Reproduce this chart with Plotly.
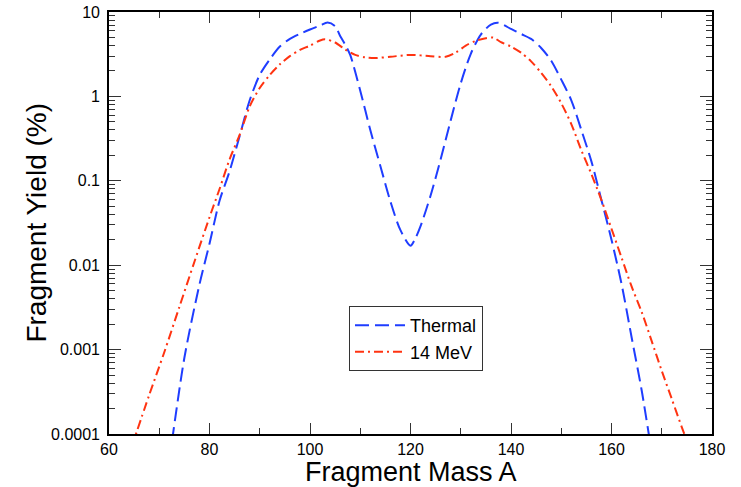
import plotly.graph_objects as go

# Thermal neutron fission fragment yields (%)
thermal_mass = [72, 75, 78, 80, 82, 84, 86, 88, 90, 92, 94, 96, 98, 100, 102, 103.5, 105, 106, 107, 108,
                110, 112, 114, 116, 118, 120, 121, 122, 124, 126, 128, 130, 132, 134, 136, 137.5,
                140, 142, 144, 146, 148, 150, 152, 154, 156, 158, 160, 162, 164, 166, 168]
thermal_yield = [0.000048, 0.0008, 0.0059, 0.018, 0.058, 0.13, 0.34, 0.9, 1.8, 2.75, 3.9, 4.8, 5.5, 6.2, 6.9, 7.5, 6.8, 5.2, 4.1, 3.1,
                 1.17, 0.40, 0.15, 0.057, 0.026, 0.017, 0.021, 0.029, 0.067, 0.18, 0.52, 1.43, 3.2, 5.4, 7.1, 7.45,
                 6.3, 5.5, 4.8, 3.75, 2.65, 1.58, 0.9, 0.4, 0.17, 0.059, 0.02, 0.006, 0.0014, 0.00033, 0.00006]

# 14 MeV neutron fission fragment yields (%)
mev14_mass = [64.5, 68, 71, 74, 77, 80, 82, 84, 86, 88, 90, 92, 94, 96, 98, 100, 102, 103, 105, 107, 109,
              111, 113, 116, 120, 124, 127, 129, 131, 133, 135, 136.5, 138, 140, 142, 144, 146, 148,
              150, 152, 154, 156, 158, 160, 162, 164, 166, 168, 170, 172, 174, 175.5]
mev14_yield = [0.00007, 0.00029, 0.00093, 0.0032, 0.011, 0.037, 0.08, 0.18, 0.35, 0.76, 1.26, 1.8, 2.4, 3.0, 3.55, 4.0, 4.6, 4.75, 4.35, 3.6, 3.1,
               2.9, 2.85, 2.95, 3.1, 3.0, 2.95, 3.3, 4.0, 4.55, 4.9, 4.97, 4.4, 3.9, 3.3, 2.6, 1.9, 1.32,
               0.83, 0.47, 0.23, 0.12, 0.059, 0.027, 0.0123, 0.0056, 0.0028, 0.00126, 0.00056, 0.00026, 0.00012, 0.00007]

x_ticks = [60, 80, 100, 120, 140, 160, 180]
x_minor_ticks = [70, 90, 110, 130, 150, 170]
y_ticks = [0.0001, 0.001, 0.01, 0.1, 1, 10]
y_ticktext = ["0.0001", "0.001", "0.01", "0.1", "1", "10"]
y_minor_ticks = [m * d for d in [0.0001, 0.001, 0.01, 0.1, 1] for m in range(2, 10)]

FONT = "Liberation Sans, Arial, Helvetica, sans-serif"

fig = go.Figure()
fig.add_trace(go.Scatter(
    x=thermal_mass, y=thermal_yield, mode="lines", name="Thermal",
    line=dict(color="#1f3dff", width=2, dash="14px,6px", shape="spline", smoothing=0.8),
))
fig.add_trace(go.Scatter(
    x=mev14_mass, y=mev14_yield, mode="lines", name="14 MeV",
    line=dict(color="#ff3311", width=2, dash="9px,4px,2px,4px", shape="spline", smoothing=0.8),
))

fig.update_layout(
    width=741, height=487,
    margin=dict(l=108.5, r=28.5, t=12, b=53, autoexpand=False),
    paper_bgcolor="white", plot_bgcolor="white",
    font=dict(family=FONT, color="black", size=16),
    showlegend=True,
    legend=dict(
        x=0.398, y=0.303, xanchor="left", yanchor="top",
        bordercolor="#333333", borderwidth=1, bgcolor="white",
        font=dict(size=18, family=FONT), tracegroupgap=0, itemwidth=50,
    ),
    annotations=[
        dict(text="Fragment Mass A", xref="paper", yref="paper", x=0.5, y=-0.0895,
             xanchor="center", yanchor="middle", showarrow=False,
             font=dict(size=27, family=FONT, color="black")),
        dict(text="Fragment Yield (%)", xref="paper", yref="paper", x=-0.1217, y=0.5,
             xanchor="center", yanchor="middle", showarrow=False, textangle=-90,
             font=dict(size=28, family=FONT, color="black")),
    ],
)

fig.update_xaxes(
    range=[60, 180], tickvals=x_ticks, ticks="inside", ticklen=11, tickwidth=1.2, tickcolor="#333",
    showline=True, linecolor="black", linewidth=1.6, mirror="ticks", showgrid=False, zeroline=False,
    tickfont=dict(size=16, family=FONT), ticklabelstandoff=0, automargin=False,
    minor=dict(tickmode="array", tickvals=x_minor_ticks, ticks="inside", ticklen=6,
               tickcolor="#333", tickwidth=1.2, showgrid=False),
)
fig.update_yaxes(
    type="log", range=[-4, 1], tickvals=y_ticks, ticktext=y_ticktext, ticks="inside", ticklen=12,
    tickwidth=1.2, tickcolor="#333",
    showline=True, linecolor="black", linewidth=1.6, mirror="ticks", showgrid=False, zeroline=False,
    tickfont=dict(size=16, family=FONT), ticklabelstandoff=4, automargin=False,
    minor=dict(tickmode="array", tickvals=y_minor_ticks, ticks="inside", ticklen=6,
               tickcolor="#333", tickwidth=1.2, showgrid=False),
)

fig.write_html(
    "out.html",
    config={"displayModeBar": False},
    post_script="document.body.style.margin='0';document.body.style.padding='0';document.body.style.overflow='hidden';",
)
